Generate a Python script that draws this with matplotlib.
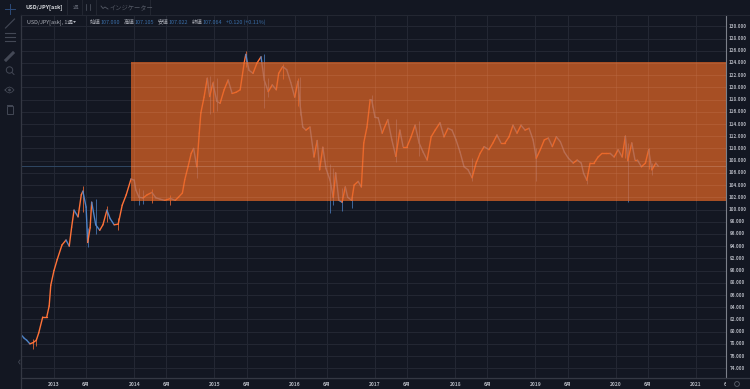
import numpy as np
import matplotlib
matplotlib.use("Agg")
import matplotlib.pyplot as plt
from matplotlib.patches import Rectangle, Circle, Polygon
from matplotlib.collections import LineCollection
from matplotlib.transforms import Bbox

plt.rcParams['font.family'] = ['Noto Sans CJK JP', 'DejaVu Sans']

dates = [2012.59,2012.63,2012.66,2012.70,2012.74,2012.78,2012.81,2012.86,2012.91,2012.94,2012.96,
2013.00,2013.04,2013.10,2013.15,2013.19,2013.22,2013.25,2013.30,2013.34,2013.36,2013.40,2013.42,2013.45,2013.47,2013.52,2013.57,2013.61,2013.66,2013.70,2013.75,2013.80,2013.85,2013.90,2013.96,
2014.00,2014.02,2014.06,2014.11,2014.16,2014.22,2014.27,2014.32,2014.38,2014.45,2014.51,2014.55,2014.60,2014.63,2014.67,2014.71,2014.74,2014.78,2014.81,2014.83,2014.87,2014.91,2014.94,2014.98,
2015.03,2015.07,2015.12,2015.17,2015.22,2015.27,2015.32,2015.37,2015.39,2015.43,2015.48,2015.53,2015.58,2015.62,2015.67,2015.72,2015.77,2015.80,2015.85,2015.90,2015.95,
2016.00,2016.04,2016.07,2016.10,2016.14,2016.19,2016.24,2016.28,2016.31,2016.35,2016.39,2016.44,2016.48,2016.51,2016.55,2016.59,2016.63,2016.66,2016.71,2016.74,2016.79,2016.83,2016.86,2016.90,2016.94,2016.96,
2017.00,2017.04,2017.09,2017.12,2017.16,2017.21,2017.26,2017.31,2017.35,2017.40,2017.45,2017.50,2017.55,2017.60,2017.65,2017.70,2017.75,2017.81,2017.86,2017.91,2017.96,
2018.01,2018.06,2018.11,2018.16,2018.21,2018.26,2018.31,2018.36,2018.42,2018.47,2018.52,2018.57,2018.62,2018.67,2018.72,2018.77,2018.82,2018.87,2018.92,2018.97,
2019.01,2019.06,2019.11,2019.16,2019.21,2019.26,2019.31,2019.36,2019.41,2019.47,2019.52,2019.57,2019.60,2019.64,2019.68,2019.73,2019.78,2019.83,2019.88,2019.93,2019.98,
2020.03,2020.08,2020.12,2020.15,2020.20,2020.24,2020.27,2020.32,2020.37,2020.41,2020.45,2020.50,2020.53]

closes = [79.5,78.9,78.6,78.0,78.2,78.6,79.8,82.4,82.4,84.2,87.6,
90.0,91.8,94.2,95.0,94.0,97.1,99.9,98.8,102.4,103.0,100.4,94.6,97.0,101.2,97.5,96.6,97.5,99.9,98.5,97.5,97.6,100.7,102.4,105.0,
104.8,103.2,102.0,101.9,102.4,102.8,101.9,101.7,101.5,101.8,101.5,102.0,102.7,104.9,107.0,109.2,110.0,107.0,112.5,115.8,118.4,121.5,118.5,120.7,
117.7,117.4,119.6,121.2,119.0,119.2,119.6,124.0,125.4,122.8,122.3,124.0,125.0,121.2,119.3,120.4,119.6,122.3,123.4,122.9,120.8,
118.4,121.0,116.8,113.5,113.0,113.5,108.6,111.3,106.5,110.2,106.7,104.8,102.0,106.0,101.5,101.2,103.7,102.0,101.5,104.0,104.6,103.7,110.9,113.5,118.0,117.9,
115.1,115.0,112.5,113.5,114.7,111.4,108.7,113.0,110.3,110.3,111.9,113.8,110.9,109.4,108.1,111.9,113.0,114.2,111.9,113.3,113.0,
111.4,109.4,107.0,106.5,105.2,107.6,109.2,110.3,109.8,110.9,112.2,110.9,110.9,111.9,113.8,112.5,113.8,113.0,113.3,111.4,
108.4,109.8,111.4,111.7,110.3,111.9,111.1,109.4,108.4,107.6,108.1,107.6,105.9,104.8,107.6,107.6,108.6,109.2,109.2,109.2,108.6,
109.8,108.6,112.0,108.0,110.9,108.1,108.1,107.0,107.6,109.8,106.5,107.6,107.1]

wick_dates = [2012.59,2012.74,2012.78,2013.36,2013.42,2013.52,2013.66,2013.80,2014.06,2014.11,2014.22,2014.45,2014.78,2014.94,2014.98,2015.03,2015.39,2015.62,2015.67,2015.85,2016.04,2016.07,2016.44,2016.48,2016.59,2016.71,2016.96,2017.26,2017.55,2018.21,2019.01,2019.64,2020.12,2020.15,2020.41,2020.45]
wick_highs = [80.0,78.8,79.0,103.8,97.0,101.8,100.6,98.6,103.6,103.2,103.4,102.4,108.6,121.9,121.0,121.5,125.9,125.4,121.6,123.8,121.6,121.7,107.5,106.8,103.5,102.6,118.7,114.9,114.5,108.4,110.0,105.0,112.2,110.9,110.0,107.6]
wick_lows = [78.8,77.2,77.6,99.6,93.8,96.0,98.0,96.6,100.7,100.9,101.0,100.8,105.2,115.6,116.0,116.2,123.4,116.6,118.5,121.4,116.9,115.4,99.4,100.8,99.8,100.2,116.8,107.8,108.8,104.6,104.6,104.2,108.4,101.3,106.6,105.6]

box_start = 2013.96
box_top = 124.2
box_bottom = 101.44
last_price = 107.06
y_ticks = list(range(74, 132, 2))
year_ticks = [2013, 2014, 2015, 2016, 2017, 2018, 2019, 2020, 2021]
month_offset = 0.4

BG = '#131722'
GRID = '#232733'
UP = '#ff7238'
DOWN = '#4f84c8'
BOX = '#e26525'
TXT = '#b0b3bc'
NUM = '#3a6ea8'

W, H = 750, 389
fig = plt.figure(figsize=(7.5, 3.89), dpi=100, facecolor=BG)
ax = fig.add_axes([21/W, (H-378)/H, 705/W, 363/H], facecolor=BG)
ax.set_xlim(2012.589, 2021.374)
ax.set_ylim(72.41, 131.85)

dates_a = np.array(dates)
closes_a = np.array(closes)
opens_a = np.r_[closes_a[0] + 0.3, closes_a[:-1]]
colors = np.where(closes_a >= opens_a, UP, DOWN)
prev_dates = np.r_[dates_a[0] - 0.02, dates_a[:-1]]

month_ticks = [y + month_offset for y in year_ticks]
for tk in year_ticks + month_ticks:
    ax.axvline(tk, color=GRID, lw=0.8, zorder=1)
for v in y_ticks:
    ax.axhline(v, color=GRID, lw=0.8, zorder=1)
ax.axhline(last_price, color='#2f4763', lw=0.7, zorder=1.5)

idx = np.searchsorted(dates_a, wick_dates)
ax.vlines(wick_dates, wick_lows, wick_highs, colors=colors[idx], lw=0.6, alpha=0.85, zorder=2)
segments = np.stack([np.c_[prev_dates, opens_a], np.c_[dates_a, closes_a]], axis=1)
ax.add_collection(LineCollection(segments, colors=colors, linewidths=1.0, capstyle='round', zorder=2.5))

ax.add_patch(Rectangle((box_start, box_bottom), 2021.374 - box_start, box_top - box_bottom,
                       facecolor=BOX, alpha=0.72, edgecolor='none', zorder=3))
box_grid = [v for v in y_ticks if box_bottom < v < box_top]
ax.hlines(box_grid, box_start, 2021.374, color='white', alpha=0.05, lw=0.8, zorder=3.5)
ax.vlines([tk for tk in year_ticks + month_ticks if tk > box_start], box_bottom, box_top,
          color='white', alpha=0.04, lw=0.8, zorder=3.5)
ax.hlines(last_price, box_start, 2021.374, color='white', alpha=0.10, lw=0.7, zorder=3.5)

for s in ['top', 'bottom', 'left', 'right']:
    ax.spines[s].set_visible(False)
ax.tick_params(left=False, bottom=False, right=False, top=False, labelleft=False, labelbottom=False)

for v in y_ticks:
    ax.annotate(f"{v}.000", xy=(1, v), xycoords=('axes fraction', 'data'), xytext=(8.4, 0),
                textcoords='offset points', va='center', ha='center', fontsize=3.3,
                color=TXT, fontweight='bold')
for y in year_ticks:
    ax.annotate(str(y), xy=(y, 0), xycoords=('data', 'axes fraction'), xytext=(0, -5),
                textcoords='offset points', va='center', ha='center', fontsize=3.5,
                color=TXT, fontweight='bold')
    lab = ax.annotate("6月", xy=(y + month_offset, 0), xycoords=('data', 'axes fraction'), xytext=(0, -5),
                textcoords='offset points', va='center', ha='center', fontsize=3.5,
                color=TXT, fontweight='bold', annotation_clip=False)
    lab.set_clip_on(True)
    lab.set_clip_box(Bbox([[0, 0], [726, H]]))

ov = fig.add_axes([0, 0, 1, 1], facecolor='none')
ov.set_xlim(0, W); ov.set_ylim(H, 0); ov.axis('off')
ov.plot([21, 21], [15, 389], color='#343843', lw=0.9)
ov.plot([726, 726], [15, 378], color='#7c808a', lw=0.8)
ov.plot([21, 750], [378, 378], color='#343843', lw=0.9)
ov.plot([21, 750], [14.5, 14.5], color='#232732', lw=0.8)
for x in [67, 82, 96, 150]:
    ov.plot([x, x], [0, 14], color='#232732', lw=0.7)

def t(x, y, s, c=TXT, w='normal', size=3.9):
    ov.text(x, y, s, color=c, fontsize=size, fontweight=w, va='center', ha='left')

t(26, 7.3, "USD/JPY[ask]", c='#d5d7dc', w='bold', size=4.0)
t(73, 7.3, "週", c='#555a66', size=4.0)
t(110, 7.3, "インジケーター", c='#555a66', size=4.5)
ov.plot([101, 103, 105, 108], [6, 8.5, 7, 9], color='#555a66', lw=0.6)
ov.plot([86, 86], [4, 10], color='#555a66', lw=0.5)
ov.plot([90, 90], [4, 10], color='#555a66', lw=0.5)
t(27, 22, "USD/JPY[ask], 1週", c=TXT)
ov.add_patch(Polygon([[73, 21], [76, 21], [74.5, 23]], fc=TXT, ec='none'))
for x, label, xv, val in [(90, "始値", 101, "107.090"), (124, "高値", 135, "107.105"),
                          (158, "安値", 169, "107.022"), (192, "終値", 203, "107.064")]:
    t(x, 22, label, c=TXT)
    t(xv, 22, val, c=NUM)
t(226, 22, "+0.120 (+0.11%)", c=NUM)

IC = '#434855'
ov.plot([5, 15], [9, 9], color='#2c4a78', lw=0.7)
ov.plot([10, 10], [4, 14], color='#2c4a78', lw=0.7)
ov.plot([5.5, 14.5], [28, 19], color=IC, lw=0.8)
for yy in [33, 37, 41]:
    ov.plot([5, 15], [yy, yy], color=IC, lw=0.8)
ov.plot([6, 13], [60, 53], color=IC, lw=2.2)
ov.add_patch(Circle((9.5, 70), 3.2, fill=False, ec=IC, lw=0.7))
ov.plot([12, 14], [72.5, 74.5], color=IC, lw=0.7)
ov.add_patch(Circle((9.5, 90), 1.4, fc=IC, ec='none'))
ov.plot([5, 7, 9.5, 12, 14, 12, 9.5, 7, 5], [90, 88, 87, 88, 90, 92, 93, 92, 90], color=IC, lw=0.6)
ov.add_patch(Rectangle((6.5, 106), 6, 7.5, fill=False, ec=IC, lw=0.7))
ov.plot([7, 12], [105, 105], color=IC, lw=0.7)
ov.plot([20, 18.5, 20], [360, 362, 364], color=IC, lw=0.6)
ov.add_patch(Circle((737, 384), 2.4, fill=False, ec='#5a5f6b', lw=0.6))

fig.savefig('out.png', dpi=100, facecolor=BG)
